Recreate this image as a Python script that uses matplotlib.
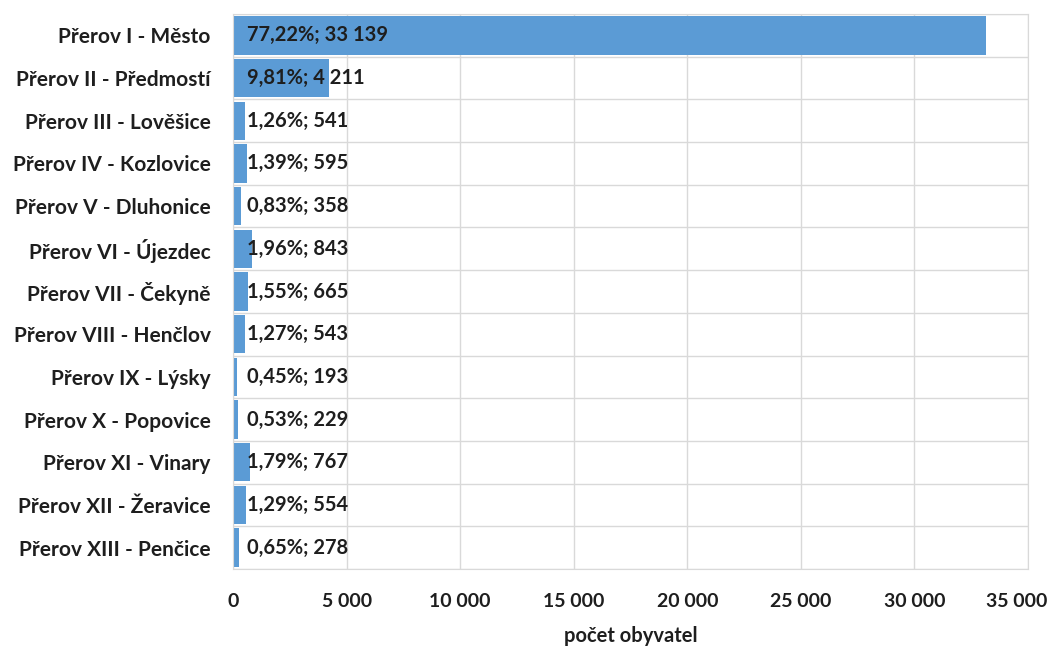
import numpy as np
import matplotlib.pyplot as plt
import matplotlib.transforms as mtransforms
from matplotlib.ticker import FuncFormatter

# population of Přerov city parts
parts = ["Přerov I - Město", "Přerov II - Předmostí", "Přerov III - Lověšice",
         "Přerov IV - Kozlovice", "Přerov V - Dluhonice", "Přerov VI - Újezdec",
         "Přerov VII - Čekyně", "Přerov VIII - Henčlov", "Přerov IX - Lýsky",
         "Přerov X - Popovice", "Přerov XI - Vinary", "Přerov XII - Žeravice",
         "Přerov XIII - Penčice"]
population = [33139, 4211, 541, 595, 358, 843, 665, 543, 193, 229, 767, 554, 278]
share = ["77,22%", "9,81%", "1,26%", "1,39%", "0,83%", "1,96%", "1,55%",
         "1,27%", "0,45%", "0,53%", "1,79%", "1,29%", "0,65%"]
xticks = [0, 5000, 10000, 15000, 20000, 25000, 30000, 35000]

plt.rcParams['font.family'] = ['Lato', 'DejaVu Sans']
txt = "#1E1E1E"
grid = "#D9D9D9"

def thousands(v):
    return f"{int(v):,}".replace(",", " ")

fig = plt.figure(figsize=(10.6, 6.46), dpi=100)
ax = fig.add_axes([233 / 1060, 1 - 569 / 646, 795 / 1060, 555 / 646])

y = np.arange(len(parts))
ax.barh(y, population, height=0.9, color="#5B9BD5", zorder=2)

for yi, v, s in zip(y, population, share):
    ax.annotate(f"{s}; {thousands(v)}", (0, yi), xytext=(10, 0),
                textcoords="offset points", va="center", ha="left",
                fontsize=14.5, fontweight="bold", color=txt, zorder=3)

ax.set_xlim(xticks[0], xticks[-1])
ax.set_ylim(len(parts) - 0.5, -0.5)
ax.set_xticks(xticks)
ax.xaxis.set_major_formatter(FuncFormatter(lambda v, p: thousands(v)))
ax.set_yticks(y)
ax.set_yticklabels(parts)
ax.set_yticks(np.arange(-0.5, len(parts), 1), minor=True)

ax.grid(axis="x", which="major", color=grid, lw=1, zorder=0)
ax.grid(axis="y", which="minor", color=grid, lw=1, zorder=0)
ax.tick_params(axis="both", which="both", length=0)
ax.tick_params(axis="x", pad=17, labelsize=14, labelcolor=txt)
ax.tick_params(axis="y", pad=16, labelsize=15, labelcolor=txt)
for lab in ax.get_xticklabels() + ax.get_yticklabels():
    lab.set_fontweight("bold")
for sp in ax.spines.values():
    sp.set_color(grid)

# keep the last tick label inside the figure
fig.canvas.draw()
last = ax.get_xticklabels()[-1]
last.set_transform(last.get_transform() +
                   mtransforms.ScaledTranslation(-11 / 100, 0, fig.dpi_scale_trans))

ax.set_xlabel("počet obyvatel", fontsize=14.5, fontweight="bold", color=txt,
              labelpad=12)

fig.savefig("out.png", dpi=100, facecolor="white")
